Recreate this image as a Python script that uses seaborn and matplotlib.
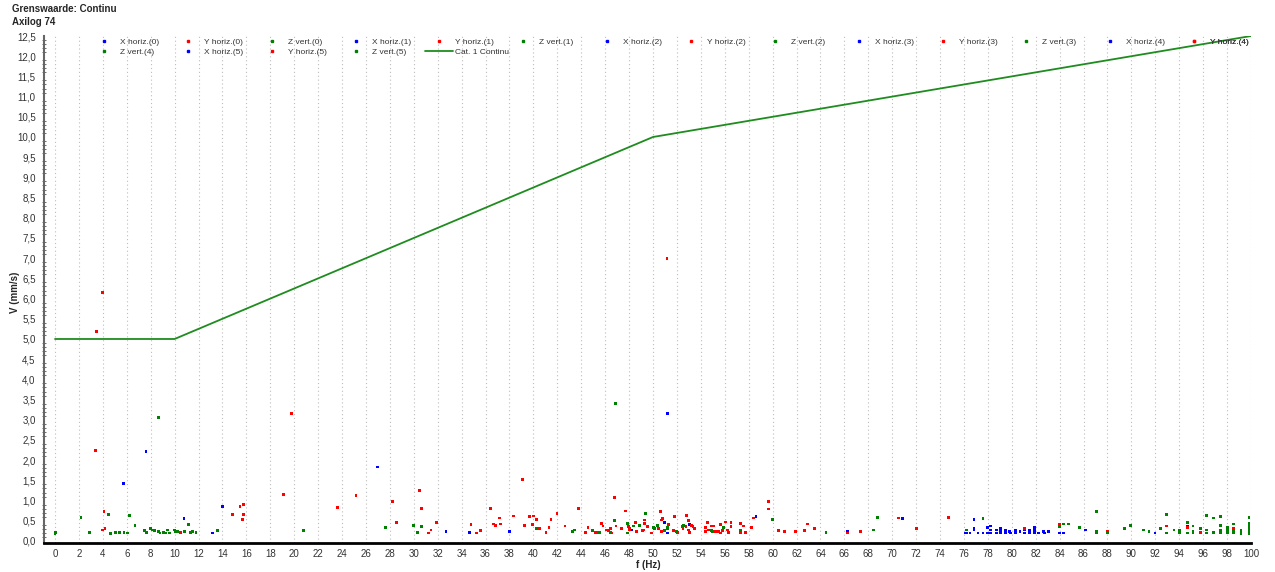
import matplotlib
matplotlib.use("Agg")
import matplotlib.pyplot as plt
import pandas as pd
import seaborn as sns
from matplotlib.lines import Line2D
from matplotlib.ticker import FuncFormatter, MultipleLocator

# grenslijn (Cat. 1 Continu)
limit_f = [0, 10, 50, 100]
limit_v = [5.0, 5.0, 10.0, 12.5]
limit_label = "Cat. 1 Continu"

# gemeten pieken (f in Hz, v in mm/s)
x_horiz = [
    (5.74, 1.42), (7.6, 2.22), (10.78, 0.55), (13.2, 0.2), (13.98, 0.85), (26.95, 1.83),
    (32.69, 0.23), (34.67, 0.21), (37.98, 0.23), (48.23, 0.27), (50.95, 0.45), (51.2, 0.2),
    (51.2, 3.16), (53.06, 0.4), (58.62, 0.6), (66.24, 0.23), (70.83, 0.55), (76.1, 0.2),
    (76.2, 0.2), (76.5, 0.2), (76.84, 0.53), (76.84, 0.31), (76.84, 0.27), (77.17, 0.2),
    (77.59, 0.2), (77.95, 0.33), (77.95, 0.2), (78.25, 0.37), (78.25, 0.27), (78.25, 0.2),
    (78.7, 0.27), (78.7, 0.2), (79.06, 0.31), (79.06, 0.26), (79.06, 0.2), (79.48, 0.26),
    (79.48, 0.2), (79.84, 0.23), (79.9, 0.2), (80.32, 0.26), (80.32, 0.2), (80.68, 0.23),
    (81.09, 0.27), (81.09, 0.2), (81.48, 0.26), (81.48, 0.21), (81.9, 0.33), (81.9, 0.26),
    (81.9, 0.2), (82.26, 0.2), (82.65, 0.23), (82.74, 0.2), (83.07, 0.23), (83.99, 0.2),
    (84.35, 0.2), (86.19, 0.27), (91.98, 0.2), (94.68, 0.37),
]
y_horiz = [
    (3.37, 2.24), (3.49, 5.19), (3.99, 6.15), (3.98, 0.27), (4.09, 0.73), (4.18, 0.31),
    (10.47, 0.21), (14.85, 0.65), (15.46, 0.85), (15.65, 0.53), (15.77, 0.65), (15.79, 0.91),
    (19.1, 1.15), (19.8, 3.16), (23.64, 0.83), (25.17, 1.12), (28.23, 0.97), (28.54, 0.45),
    (30.46, 1.24), (30.66, 0.8), (31.24, 0.2), (31.44, 0.27), (31.88, 0.45), (34.78, 0.4),
    (35.25, 0.2), (35.59, 0.26), (36.42, 0.8), (36.67, 0.42), (36.84, 0.38), (37.18, 0.57),
    (37.23, 0.42), (38.35, 0.62), (39.07, 1.53), (39.26, 0.39), (39.68, 0.6), (39.93, 0.4),
    (40.04, 0.62), (40.24, 0.53), (40.52, 0.31), (41.05, 0.21), (41.3, 0.33), (41.47, 0.53),
    (41.97, 0.68), (42.64, 0.37), (43.75, 0.8), (44.36, 0.21), (44.56, 0.33), (45.17, 0.21),
    (45.31, 0.21), (45.67, 0.44), (45.81, 0.37), (46.14, 0.27), (46.31, 0.26), (46.45, 0.31),
    (46.56, 0.2), (46.76, 1.07), (46.9, 0.37), (47.37, 0.31), (47.68, 0.74), (47.96, 0.36),
    (48.01, 0.31), (48.04, 0.27), (48.54, 0.45), (48.65, 0.23), (49.12, 0.26), (49.24, 0.27),
    (49.26, 0.52), (49.29, 0.44), (49.53, 0.36), (49.86, 0.2), (50.1, 0.31), (50.44, 0.31),
    (50.64, 0.73), (50.7, 0.23), (50.72, 0.52), (50.78, 0.55), (51.17, 7.0), (51.28, 0.4),
    (51.72, 0.26), (51.78, 0.6), (52.03, 0.21), (52.45, 0.36), (52.5, 0.31), (52.75, 0.36),
    (52.78, 0.64), (52.81, 0.62), (52.97, 0.51), (53.0, 0.27), (53.06, 0.21), (53.25, 0.38),
    (53.34, 0.36), (53.5, 0.31), (54.37, 0.33), (54.4, 0.23), (54.56, 0.45), (54.67, 0.27),
    (54.87, 0.37), (54.98, 0.37), (55.09, 0.37), (55.17, 0.23), (55.31, 0.23), (55.48, 0.23),
    (55.65, 0.4), (55.67, 0.2), (55.78, 0.26), (56.03, 0.47), (56.23, 0.27), (56.34, 0.21),
    (56.53, 0.45), (56.53, 0.36), (57.31, 0.2), (57.34, 0.44), (57.59, 0.37), (57.76, 0.21),
    (58.26, 0.33), (58.43, 0.57), (59.65, 0.79), (59.68, 0.98), (60.51, 0.26), (61.01, 0.23),
    (61.93, 0.23), (62.68, 0.26), (62.93, 0.42), (63.49, 0.31), (66.24, 0.2), (67.35, 0.23),
    (70.52, 0.57), (72.0, 0.31), (74.72, 0.59), (81.09, 0.31), (83.99, 0.4), (83.99, 0.37),
    (88.0, 0.23), (92.95, 0.37), (94.68, 0.33), (95.77, 0.21), (98.55, 0.31),
]
z_vert = [
    (0.0, 0.19), (0.05, 0.21), (2.17, 0.59), (2.87, 0.21), (4.46, 0.65), (4.65, 0.19),
    (5.07, 0.21), (5.4, 0.21), (5.77, 0.21), (6.07, 0.2), (6.24, 0.64), (6.69, 0.38),
    (7.47, 0.26), (7.66, 0.21), (7.97, 0.31), (8.16, 0.27), (8.3, 0.26), (8.66, 3.05),
    (8.66, 0.23), (8.77, 0.2), (9.08, 0.21), (9.28, 0.2), (9.41, 0.27), (9.58, 0.2),
    (10.0, 0.27), (10.1, 0.23), (10.25, 0.23), (10.86, 0.23), (11.17, 0.4), (11.36, 0.21),
    (11.5, 0.24), (11.78, 0.21), (13.56, 0.26), (20.75, 0.26), (27.62, 0.33), (29.99, 0.38),
    (30.3, 0.21), (30.66, 0.35), (40.27, 0.31), (43.25, 0.23), (43.44, 0.27), (44.97, 0.26),
    (45.53, 0.21), (46.42, 0.21), (46.76, 0.51), (46.84, 3.41), (47.9, 0.44), (47.9, 0.2),
    (48.37, 0.37), (48.87, 0.38), (49.35, 0.68), (50.03, 0.33), (50.08, 0.31), (50.39, 0.38),
    (50.95, 0.26), (51.2, 0.31), (51.2, 0.33), (51.97, 0.23), (52.56, 0.38), (54.9, 0.26),
    (54.98, 0.23), (55.87, 0.33), (57.31, 0.26), (59.98, 0.53), (64.46, 0.21), (68.46, 0.27),
    (68.74, 0.59), (76.2, 0.27), (77.59, 0.55), (83.99, 0.35), (84.35, 0.42), (84.77, 0.42),
    (85.63, 0.33), (87.08, 0.73), (87.08, 0.23), (87.08, 0.2), (88.0, 0.2), (89.45, 0.31),
    (89.95, 0.38), (91.0, 0.27), (91.48, 0.23), (92.45, 0.31), (92.95, 0.65), (92.95, 0.2),
    (93.57, 0.27), (94.04, 0.27), (94.04, 0.23), (94.04, 0.2), (94.68, 0.45), (94.68, 0.2),
    (95.15, 0.37), (95.15, 0.23), (95.15, 0.2), (95.77, 0.31), (96.27, 0.64), (96.27, 0.27),
    (96.27, 0.2), (96.88, 0.57), (96.88, 0.21), (97.44, 0.6), (97.44, 0.38), (97.44, 0.27),
    (97.44, 0.23), (97.44, 0.2), (98.05, 0.33), (98.05, 0.26), (98.05, 0.2), (98.55, 0.42),
    (98.55, 0.23), (98.55, 0.2), (99.16, 0.26), (99.16, 0.21), (99.16, 0.19), (99.83, 0.59),
    (99.83, 0.44), (99.83, 0.36), (99.83, 0.31), (99.83, 0.26), (99.83, 0.21), (99.83, 0.19),
]

components = ["X horiz.", "Y horiz.", "Z vert."]
colors = {"X horiz.": "#0000ff", "Y horiz.": "#ff0000", "Z vert.": "#008000"}
n_metingen = 6

frames = []
for comp, pts in zip(components, [x_horiz, y_horiz, z_vert]):
    d = pd.DataFrame(pts, columns=["f", "v"])
    d["comp"] = comp
    frames.append(d)
df = pd.concat(frames, ignore_index=True)

sns.set_theme(style="white")
plt.rcParams["font.family"] = ["Liberation Sans", "DejaVu Sans"]

W, H = 1275, 572
fig = plt.figure(figsize=(W / 100, H / 100), dpi=100)
ax = fig.add_axes([44 / W, 1 - 543 / H, 1207 / W, 507 / H])

ax.xaxis.grid(True, linestyle=(0, (1, 2.5)), color="#bdbdbd", linewidth=0.8)
ax.set_axisbelow(True)

sns.scatterplot(data=df, x="f", y="v", hue="comp", palette=colors, hue_order=components,
                marker="s", s=4, linewidth=0, legend=False, ax=ax, zorder=3)
sns.lineplot(x=limit_f, y=limit_v, color="#1e8c1e", linewidth=1.3, ax=ax, zorder=4)

ax.set_xlim(-0.92, 100)
ax.set_ylim(-0.05, 12.5)
ax.set_xlabel("")
ax.set_ylabel("")

ax.xaxis.set_major_locator(MultipleLocator(2))
ax.yaxis.set_major_locator(MultipleLocator(0.5))
ax.yaxis.set_minor_locator(MultipleLocator(0.1))
ax.yaxis.set_major_formatter(FuncFormatter(lambda v, _: f"{v:.1f}".replace(".", ",")))
ax.xaxis.set_major_formatter(FuncFormatter(lambda v, _: f"{v:.0f}"))
ax.tick_params(axis="both", which="major", direction="out", length=4, width=0.8,
               color="#555555", labelsize=7, labelcolor="#333333", pad=2)
ax.tick_params(axis="x", which="major", length=3, pad=1)
ax.tick_params(axis="y", which="minor", direction="inout", length=3, width=0.6,
               color="#555555", left=True)

for side in ["top", "right"]:
    ax.spines[side].set_visible(False)
ax.spines["left"].set_linewidth(1.5)
ax.spines["left"].set_color("#666666")
ax.spines["bottom"].set_linewidth(2)
ax.spines["bottom"].set_color("black")

# legenda: rij voor rij, 14 kolommen met vaste breedte
items = []
for i in range(n_metingen):
    for comp in components:
        h = Line2D([], [], linestyle="", marker="s", markersize=1.6, color=colors[comp])
        items.append((h, f"{comp}({i})"))
items.append((Line2D([], [], color="#1e8c1e", linewidth=1.3), limit_label))
ncol = 14
col_pitch = 83.85
row1, row2 = items[:ncol], items[ncol:]
for c in range(ncol):
    col_items = [row1[c]] + ([row2[c]] if c < len(row2) else [])
    leg = ax.legend([h for h, _ in col_items], [l for _, l in col_items], loc="upper left",
                    bbox_to_anchor=((90 + col_pitch * c) / W, 1 - 38 / H),
                    bbox_transform=fig.transFigure, frameon=False, fontsize=6,
                    handlelength=3.36, handletextpad=0.25, labelspacing=0.3,
                    borderpad=0, borderaxespad=0, labelcolor="#333333")
    ax.add_artist(leg)

fig.text(12 / W, 1 - 9 / H, "Grenswaarde: Continu", fontsize=7, fontweight="bold", va="center")
fig.text(12 / W, 1 - 22 / H, "Axilog 74", fontsize=7, fontweight="bold", va="center")
fig.text(15 / W, 1 - 292 / H, "V (mm/s)", fontsize=7, fontweight="bold", rotation=90,
         ha="center", va="center")
fig.text(648 / W, 1 - 565 / H, "f (Hz)", fontsize=7, fontweight="bold", ha="center", va="center")

fig.savefig("out.png", dpi=100)
